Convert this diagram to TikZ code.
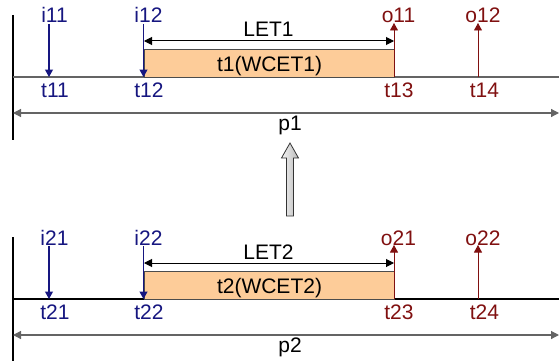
\documentclass[tikz,border=0pt]{standalone}
\usepackage{fontspec}
\setmainfont{Liberation Sans}
\usetikzlibrary{arrows.meta}
\definecolor{inblue}{RGB}{22,22,128}
\definecolor{outred}{RGB}{128,16,16}
\definecolor{taskfill}{RGB}{253,204,153}
\definecolor{axisgray}{RGB}{100,100,100}
\begin{document}
\begin{tikzpicture}[x=1pt,y=-1pt,
  font=\fontsize{21}{25}\selectfont,
  lbl/.style={anchor=base,inner sep=0pt},
  inarr/.style={draw=inblue,line width=1.2pt,-{Triangle[length=7.5pt,width=8pt]}},
  outarr/.style={draw=outred,line width=0.9pt,-{Triangle[length=7.5pt,width=8pt]}},
  letarr/.style={draw=black,line width=1pt,{Triangle[length=8pt,width=8pt]}-{Triangle[length=8pt,width=8pt]}},
  perarr/.style={draw=axisgray,line width=1.2pt,{Triangle[length=8pt,width=8pt]}-{Triangle[length=8pt,width=8pt]}},
  axis/.style={line width=1.2pt},
  taskbox/.style={draw=gray!60!black,line width=1pt,fill=taskfill,minimum width=250pt,minimum height=28pt,inner sep=0pt,text depth=0pt,anchor=north west}
]
\useasboundingbox (0,0) rectangle (559,361);

\foreach \k/\d/\tl in {1/0/axisgray,2/222/black}{
  % left boundary and time line
  \coordinate (L\k a) at (13,15+\d);
  \coordinate (L\k b) at (13,140+\d);
  \draw[line width=1.1pt,black] (L\k a) -- (L\k b);
  \coordinate (A\k a) at (13,77+\d);
  \coordinate (A\k b) at (559,77+\d);
  \draw[axis,draw=\tl] (A\k a) -- (A\k b);
  % task box
  \node[taskbox] (task\k) at (144,49+\d) {t\k(WCET\k)};
  % labels
  \node[lbl,text=inblue] (i\k1) at (54.5,23+\d) {i\k1};
  \node[lbl,text=inblue] (i\k2) at (148.5,23+\d) {i\k2};
  \node[lbl,text=outred] (o\k1) at (398.5,23+\d) {o\k1};
  \node[lbl,text=outred] (o\k2) at (483,23+\d) {o\k2};
  \node[lbl,text=inblue] (t\k1) at (55,97+\d) {t\k1};
  \node[lbl,text=inblue] (t\k2) at (149,97+\d) {t\k2};
  \node[lbl,text=outred] (t\k3) at (399,97+\d) {t\k3};
  \node[lbl,text=outred] (t\k4) at (484.5,97+\d) {t\k4};
  \node[lbl] (let\k) at (268.5,37+\d) {LET\k};
  \node[lbl] (p\k) at (290,130+\d) {p\k};
  % arrow end points
  \coordinate (is\k1) at (49,24+\d);   \coordinate (ie\k1) at (49,77+\d);
  \coordinate (is\k2) at (143.5,24+\d);\coordinate (ie\k2) at (143.5,77+\d);
  \coordinate (os\k1) at (394,77+\d);  \coordinate (oe\k1) at (394,23+\d);
  \coordinate (os\k2) at (478,77+\d);  \coordinate (oe\k2) at (478,23+\d);
  \coordinate (ls\k) at (144,41+\d);   \coordinate (le\k) at (394,41+\d);
  \coordinate (ps\k) at (13,113+\d);   \coordinate (pe\k) at (559,113+\d);
  \draw[inarr] (is\k1) -- (ie\k1);
  \draw[inarr] (is\k2) -- (ie\k2);
  \draw[outarr] (os\k1) -- (oe\k1);
  \draw[outarr] (os\k2) -- (oe\k2);
  \draw[letarr] (ls\k) -- (le\k);
  \draw[perarr] (ps\k) -- (pe\k);
}

% big hollow arrow between the two panels
\path[draw=gray!40!black,line width=0.8pt,left color=gray!8,right color=gray!55]
  (286.5,216) -- (286.5,158) -- (281.5,158) -- (290,143) -- (298.5,158)
  -- (293.5,158) -- (293.5,216) -- cycle;
\end{tikzpicture}
\end{document}
